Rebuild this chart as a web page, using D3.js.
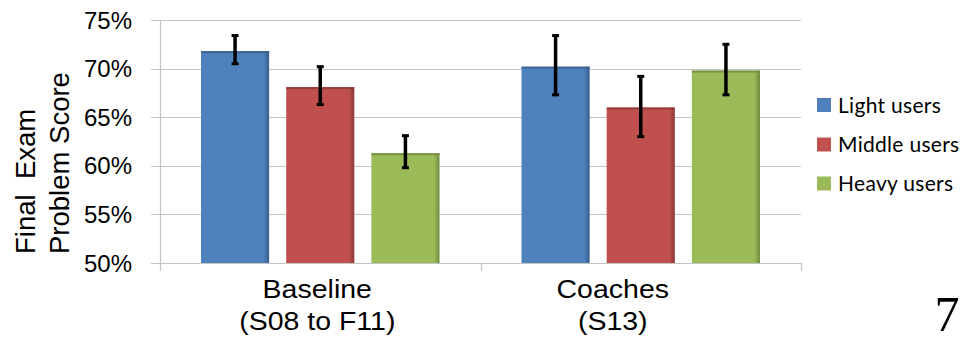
<!DOCTYPE html>
<html><head><meta charset="utf-8">
<script src="https://cdn.jsdelivr.net/npm/d3@7"></script>
<style>body{margin:0;background:#fff;}svg{display:block;}</style>
</head><body>
<svg id="chart" width="967" height="337"></svg>
<script>
const categories = ["Baseline", "Coaches"];
const categorySubLabels = ["(S08 to F11)", "(S13)"];
const seriesNames = ["Light users", "Middle users", "Heavy users"];
const lightValues  = [0.718, 0.702];
const middleValues = [0.681, 0.660];
const heavyValues  = [0.613, 0.698];
const lightErrLow  = [0.705, 0.673];
const lightErrHigh = [0.734, 0.734];
const middleErrLow = [0.663, 0.630];
const middleErrHigh= [0.702, 0.692];
const heavyErrLow  = [0.598, 0.673];
const heavyErrHigh = [0.631, 0.725];
const yTicks = [0.50, 0.55, 0.60, 0.65, 0.70, 0.75];

const colors = ["#4F81BD", "#C0504D", "#9BBB59"];
const darks  = ["#385D8A", "#8C3836", "#71893F"];
const labelShift = [-3, -28];

const values = [lightValues, middleValues, heavyValues];
const errLow = [lightErrLow, middleErrLow, heavyErrLow];
const errHigh = [lightErrHigh, middleErrHigh, heavyErrHigh];

const svg = d3.select("#chart");
const L = 160, R = 801, T = 20, B = 263;
const y = d3.scaleLinear().domain([0.5, 0.75]).range([B, T]);
const x0 = d3.scaleBand().domain(categories).range([L, R]).padding(0);
const inner = 41;
const x1 = d3.scaleBand().domain(seriesNames).range([inner, x0.bandwidth() - inner]).paddingInner(0.2).paddingOuter(0);

const defs = svg.append("defs");
colors.forEach((c, i) => {
  const g = defs.append("linearGradient").attr("id", "g" + i).attr("x1", 0).attr("x2", 1).attr("y1", 0).attr("y2", 0);
  g.append("stop").attr("offset", "0%").attr("stop-color", c);
  g.append("stop").attr("offset", "92%").attr("stop-color", c);
  g.append("stop").attr("offset", "100%").attr("stop-color", darks[i]);
});

// gridlines
svg.append("g").selectAll("line").data(yTicks).join("line")
  .attr("x1", 151).attr("x2", R).attr("y1", d => Math.round(y(d)) + 0.5).attr("y2", d => Math.round(y(d)) + 0.5)
  .attr("stroke", "#c4c4c4").attr("stroke-width", 1.2);

// y axis line
svg.append("line").attr("x1", L + 0.5).attr("x2", L + 0.5).attr("y1", T).attr("y2", B + 0.5)
  .attr("stroke", "#c4c4c4").attr("stroke-width", 1.2);
// x axis line and ticks
svg.append("line").attr("x1", L).attr("x2", R).attr("y1", B + 0.5).attr("y2", B + 0.5)
  .attr("stroke", "#c4c4c4").attr("stroke-width", 1.2);
const xTickPos = [L, ...categories.map(c => x0(c) + x0.bandwidth())];
svg.append("g").selectAll("line").data(xTickPos).join("line")
  .attr("x1", d => Math.round(d) + 0.5).attr("x2", d => Math.round(d) + 0.5).attr("y1", B).attr("y2", B + 8)
  .attr("stroke", "#c4c4c4").attr("stroke-width", 1.2);

// y tick labels
svg.append("g").selectAll("text").data(yTicks).join("text")
  .attr("x", 132).attr("y", d => y(d)).attr("dy", "0.36em")
  .attr("text-anchor", "end").attr("font-family", "Liberation Sans, Arial, sans-serif")
  .attr("font-size", 24).attr("fill", "#000")
  .text(d => d3.format(".0%")(d));

// y title
const titleLines = ["Final\u00A0\u00A0Exam", "Problem Score"];
svg.append("g").selectAll("text").data(titleLines).join("text")
  .attr("transform", (d, i) => `translate(${[35, 69][i]},254) rotate(-90)`)
  .attr("text-anchor", "start").attr("font-family", "Liberation Sans, Arial, sans-serif")
  .attr("font-size", 27.5).attr("fill", "#000")
  .text(d => d);

// bars
seriesNames.forEach((s, si) => {
  const g = svg.append("g");
  categories.forEach((c, ci) => {
    const bx = x0(c) + x1(s), bw = x1.bandwidth();
    const v = values[si][ci];
    g.append("rect").attr("x", bx).attr("y", y(v)).attr("width", bw).attr("height", B - y(v))
      .attr("fill", `url(#g${si})`);
    g.append("rect").attr("x", bx).attr("y", y(v)).attr("width", bw).attr("height", 2)
      .attr("fill", darks[si]).attr("opacity", 0.8);
    // error bar
    const cx = bx + bw / 2;
    g.append("line").attr("x1", cx).attr("x2", cx).attr("y1", y(errHigh[si][ci])).attr("y2", y(errLow[si][ci]))
      .attr("stroke", "#000").attr("stroke-width", 3.5);
    [errHigh[si][ci], errLow[si][ci]].forEach(e => {
      g.append("line").attr("x1", cx - 3.5).attr("x2", cx + 3.5).attr("y1", y(e)).attr("y2", y(e))
        .attr("stroke", "#000").attr("stroke-width", 3);
    });
  });
});

// category labels
categories.forEach((c, i) => {
  const cx = x0(c) + x0.bandwidth() / 2 + labelShift[i];
  svg.append("text").attr("transform", `translate(${cx},298) scale(1.14,1)`).attr("text-anchor", "middle")
    .attr("font-family", "Liberation Sans, Arial, sans-serif").attr("font-size", 25).attr("fill", "#000").text(c);
  svg.append("text").attr("transform", `translate(${cx},330) scale(1.14,1)`).attr("text-anchor", "middle")
    .attr("font-family", "Liberation Sans, Arial, sans-serif").attr("font-size", 25).attr("fill", "#000").text(categorySubLabels[i]);
});

// legend
const legendY = [105, 144.5, 183.5];
const lg = svg.append("g");
seriesNames.forEach((s, i) => {
  lg.append("rect").attr("x", 817).attr("y", legendY[i] - 7).attr("width", 14).attr("height", 14).attr("fill", colors[i]);
  lg.append("text").attr("x", 838).attr("y", legendY[i]).attr("dy", "0.36em")
    .attr("font-family", "Lato, 'Open Sans', sans-serif").attr("font-size", 21).attr("letter-spacing", 0.3)
    .attr("fill", "#000").text(s);
});

// page number
svg.append("text").attr("x", 947).attr("y", 331).attr("text-anchor", "middle")
  .attr("font-family", "Liberation Serif, 'Times New Roman', serif").attr("font-size", 50).attr("fill", "#000").text("7");
</script>
</body></html>
